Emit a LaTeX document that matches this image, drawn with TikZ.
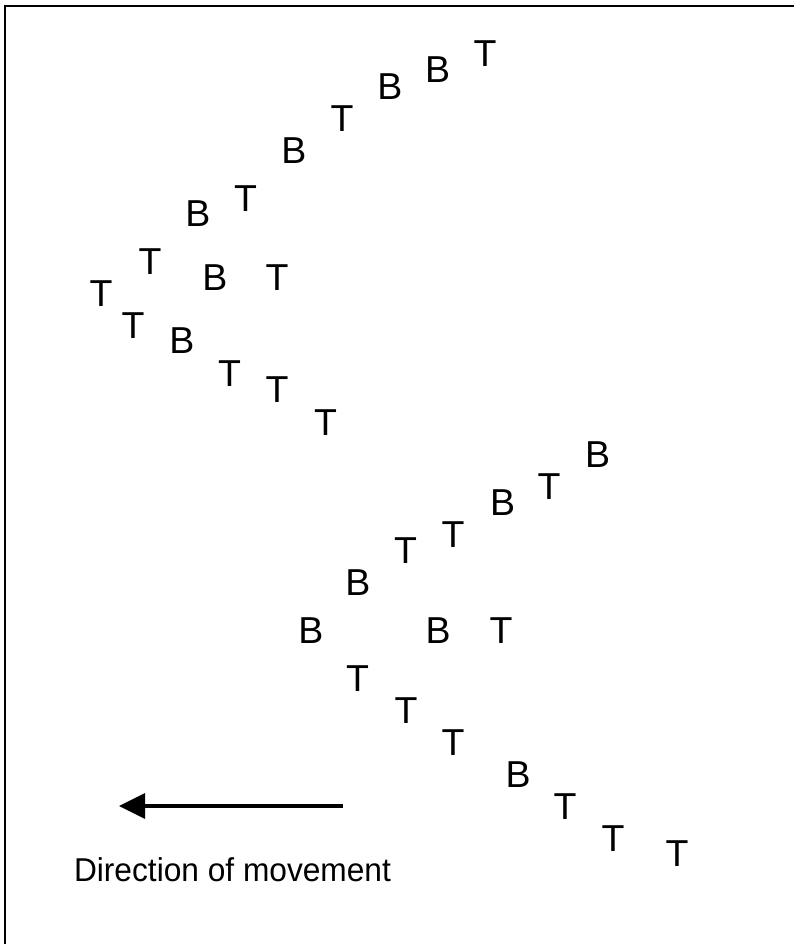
\documentclass[tikz,border=0pt]{standalone}
\usepackage{fontspec}
\setmainfont{Liberation Sans}
\usetikzlibrary{arrows.meta}
\tikzstyle{letter} = [inner sep=0pt,
anchor=center,
font=\fontsize{37.5}{40}\selectfont]
\tikzstyle{caption} = [inner sep=0pt,
anchor=base,
xscale=0.96,
font=\fontsize{33}{36}\selectfont]
\tikzstyle{frame} = [line width=1.8pt, draw=black]
\tikzstyle{arrow} = [line width=3.5pt,-{Triangle[length=26pt,width=25pt]}]

\begin{document}
\begin{tikzpicture}[x=1pt, y=-1pt]

    \clip (0,0) rectangle (794,944);
    \useasboundingbox (0,0) rectangle (794,944);
    \draw [frame] (5,6) rectangle (820,970);

    % upper band
    \node (u1) [letter] at (485,54) {T};
    \node (u2) [letter] at (437.5,70) {B};
    \node (u3) [letter] at (390,86.5) {B};
    \node (u4) [letter] at (342,118.5) {T};
    \node (u5) [letter] at (294,150.5) {B};
    \node (u6) [letter] at (245.5,198.5) {T};
    \node (u7) [letter] at (198,214) {B};
    \node (u8) [letter] at (150,262) {T};
    \node (u9) [letter] at (215,278) {B};
    \node (u10) [letter] at (277,278) {T};
    \node (u11) [letter] at (101,294) {T};
    \node (u12) [letter] at (133,326) {T};
    \node (u13) [letter] at (182,341) {B};
    \node (u14) [letter] at (229.5,374) {T};
    \node (u15) [letter] at (277,390) {T};
    \node (u16) [letter] at (325.5,422.5) {T};

    % lower band
    \node (l1) [letter] at (597.5,455) {B};
    \node (l2) [letter] at (549,486.5) {T};
    \node (l3) [letter] at (502.5,502.5) {B};
    \node (l4) [letter] at (453,534.5) {T};
    \node (l5) [letter] at (405.5,550.5) {T};
    \node (l6) [letter] at (358,582.5) {B};
    \node (l7) [letter] at (311,630.5) {B};
    \node (l8) [letter] at (438,630.5) {B};
    \node (l9) [letter] at (501,630.5) {T};
    \node (l10) [letter] at (357.5,678.5) {T};
    \node (l11) [letter] at (406,710.5) {T};
    \node (l12) [letter] at (453,742.5) {T};
    \node (l13) [letter] at (518,774.5) {B};
    \node (l14) [letter] at (565,806.5) {T};
    \node (l15) [letter] at (613,838.5) {T};
    \node (l16) [letter] at (677,854) {T};

    % movement arrow
    \coordinate (tail) at (343,806);
    \coordinate (tip) at (119,806);
    \draw [arrow] (tail) -- (tip);
    \node (dir) [caption] at (232.5,881) {Direction of movement};

\end{tikzpicture}
\end{document}
